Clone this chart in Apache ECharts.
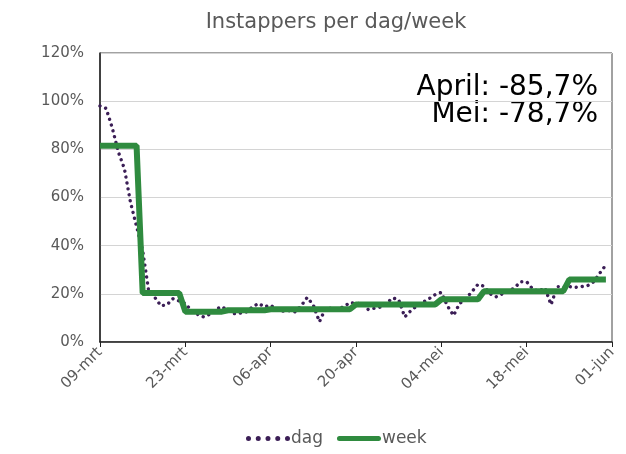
<!DOCTYPE html>
<html>
<head>
<meta charset="utf-8">
<script src="https://cdn.jsdelivr.net/npm/echarts@6/dist/echarts.min.js"></script>
<style>
  html, body { margin: 0; padding: 0; background: #fff; }
  #chart { width: 626px; height: 454px; }
</style>
</head>
<body>
<div id="chart"></div>
<script>
// dagen vanaf 09-mrt t/m 01-jun (85 labels)
const monthNames = ['jan', 'feb', 'mrt', 'apr', 'mei', 'jun']
const startDate = new Date(2020, 2, 9)
const dayCount = 85
const dates = []
for (let i = 0; i < dayCount; i++) {
  const d = new Date(startDate.getFullYear(), startDate.getMonth(), startDate.getDate() + i)
  dates.push(String(d.getDate()).padStart(2, '0') + '-' + monthNames[d.getMonth()])
}

// instappers per dag (% t.o.v. normaal)
const dagValues = [
  98, 97, 89, 79, 72, 58, 48,
  38, 21, 18.5, 15, 15.5, 18, 17,
  16, 13, 11.5, 10.4, 11.5, 13.5, 14.7,
  13, 11.8, 12, 12.5, 14.5, 16, 14.6,
  15.3, 13.5, 12.8, 13, 12.5, 15, 18.5,
  15.3, 8.4, 14, 14, 13.8, 14.6, 16.4,
  16, 16, 13.5, 14, 14.5, 16, 18.3,
  17.6, 10.4, 13, 15, 16.5, 18, 19.7,
  20.6, 15, 11, 16, 18, 20.8, 23.9,
  23.2, 20, 18.8, 20, 21, 22.5, 25,
  25, 22, 21, 22.5, 15.5, 23, 23,
  23, 22.7, 23, 23.4, 25, 28.6, 32
]

// weekgemiddelden (ma t/m zo)
const weekValues = [81.5, 20.3, 12.6, 13.2, 13.6, 13.6, 15.6, 15.6, 17.7, 21.1, 21.1, 25.9]

const yTicks = [0, 20, 40, 60, 80, 100, 120]

const annotations = ['April: -85,7%', 'Mei: -78,7%']

// weekwaarde per dag uitschrijven
const weekPerDay = []
for (let i = 0; i < dagValues.length; i++) {
  weekPerDay.push(weekValues[Math.floor(i / 7)])
}

const myChart = echarts.init(document.getElementById('chart'))
const labelColor = '#595959'
const font = 'DejaVu Sans, Verdana, sans-serif'
const dagColor = '#3b1e56'
const weekColor = '#2f8b3f'

// legenda-iconen: vijf stippen en een dikke balk
const dotIcon = 'path://' + [0, 9.75, 19.5, 29.25, 39].map(function(x) {
  return 'M' + x + ',2.5a2.5,2.5 0 1,0 5,0a2.5,2.5 0 1,0 -5,0'
}).join('')
const barIcon = 'path://M2.5,0L41.5,0A2.5,2.5 0 0,1 41.5,5L2.5,5A2.5,2.5 0 0,1 2.5,0Z'

const option = {
  animation: false,
  title: {
    text: 'Instappers per dag/week',
    left: 331,
    textAlign: 'center',
    top: 7,
    textStyle: {
      color: labelColor,
      fontFamily: font,
      fontWeight: 'normal',
      fontSize: 21
    }
  },
  legend: {
    bottom: 2,
    left: 241,
    itemWidth: 44,
    itemHeight: 5,
    itemGap: 14,
    textStyle: {
      color: labelColor,
      fontFamily: font,
      fontSize: 17,
      padding: [0, 0, 0, -4]
    },
    data: [
      { name: 'dag', icon: dotIcon },
      { name: 'week', icon: barIcon }
    ]
  },
  grid: {
    left: 100,
    right: 14,
    top: 53,
    bottom: 112,
    show: true,
    borderColor: '#444',
    borderWidth: 1
  },
  xAxis: {
    type: 'category',
    boundaryGap: false,
    data: dates,
    axisLine: { lineStyle: { color: '#222', width: 1.5 } },
    axisTick: { interval: 13, length: 5, lineStyle: { color: '#222' } },
    axisLabel: {
      interval: 13,
      rotate: 45,
      color: labelColor,
      fontFamily: font,
      fontSize: 15,
      margin: 8
    },
    splitLine: { show: false }
  },
  yAxis: {
    type: 'value',
    min: yTicks[0],
    max: yTicks[yTicks.length - 1],
    interval: 20,
    axisLine: { show: true, lineStyle: { color: '#222', width: 1.5 } },
    axisTick: { show: false },
    axisLabel: {
      formatter: '{value}%',
      color: labelColor,
      fontFamily: font,
      fontSize: 15,
      margin: 16
    },
    splitLine: { lineStyle: { color: '#d4d4d4' } }
  },
  graphic: [
    {
      type: 'text',
      right: 28,
      top: 74,
      style: { text: annotations[0], fill: '#000', font: '28px ' + font, textAlign: 'right' }
    },
    {
      type: 'text',
      right: 28,
      top: 101,
      style: { text: annotations[1], fill: '#000', font: '28px ' + font, textAlign: 'right' }
    }
  ],
  series: [
    {
      name: 'dag',
      type: 'line',
      data: dagValues,
      symbol: 'none',
      z: 3,
      itemStyle: { color: dagColor },
      lineStyle: {
        color: dagColor,
        width: 3.4,
        type: [0.01, 6],
        cap: 'round'
      }
    },
    {
      name: 'week',
      type: 'line',
      data: weekPerDay,
      symbol: 'none',
      z: 4,
      itemStyle: { color: weekColor },
      lineStyle: { color: weekColor, width: 6 }
    }
  ]
}

myChart.setOption(option)
window.addEventListener('resize', function() {
  myChart.resize()
})
</script>
</body>
</html>
